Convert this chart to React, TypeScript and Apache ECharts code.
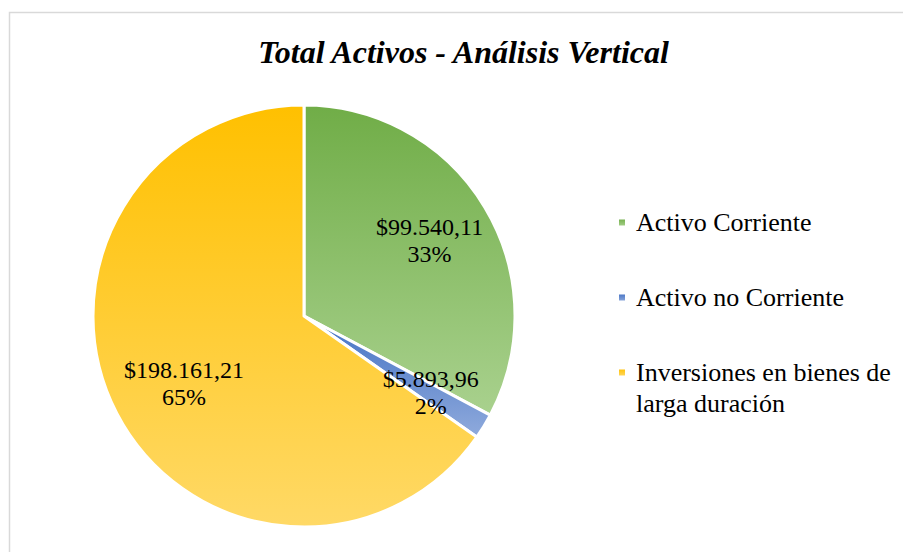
import React, { useEffect, useRef } from "react";
import * as echarts from "echarts";

const categories = [
  "Activo Corriente",
  "Activo no Corriente",
  "Inversiones en bienes de\nlarga duración",
];
const values = [99540.11, 5893.96, 198161.21];
const topColors = ["#70ad47", "#4472c4", "#ffc000"];
const bottomColors = ["#a9d18e", "#8faadc", "#ffd966"];
const titleText = "Total Activos - Análisis Vertical";

const FONT = "Liberation Serif";

function formatMoney(v: number): string {
  const [intPart, dec] = v.toFixed(2).split(".");
  const withDots = intPart.replace(/\B(?=(\d{3})+(?!\d))/g, ".");
  return "$" + withDots + "," + dec;
}

export default function App() {
  const ref = useRef<HTMLDivElement>(null);
  useEffect(() => {
    if (!ref.current) return;
    const chart = echarts.init(ref.current, null, { renderer: "svg" });
    const total = values.reduce((a, b) => a + b, 0);
    const R = 211;
    const center = [304, 316];
    const data = categories.map((name, i) => ({
      name,
      value: values[i],
      itemStyle: {
        color: new echarts.graphic.LinearGradient(0, 0, 0, 1, [
          { offset: 0, color: topColors[i] },
          { offset: 1, color: bottomColors[i] },
        ]),
      },
    }));
    // label nudges (Excel "best fit" placement)
    const labelPads = [
      [5, 0, 0, 0],
      [4, 0, 0, 4],
      [0, 0, 2, 20],
    ];
    const legendTops = [207, 282, 326];
    const legends = categories.map((name, i) => ({
      data: [{ name }],
      orient: "vertical",
      left: 617,
      top: legendTops[i],
      padding: 0,
      itemWidth: 8,
      itemHeight: 8,
      icon: "rect",
      selectedMode: false,
      formatter: (n: string) => (n.indexOf("\n") >= 0 ? "\n" + n : n),
      textStyle: {
        fontFamily: FONT,
        fontSize: 26,
        lineHeight: 31,
        color: "#000",
        padding: [0, 0, 0, 5],
      },
    }));
    chart.setOption({
      animation: false,
      title: {
        text: titleText,
        left: 463.5,
        top: 36,
        textAlign: "center",
        padding: 0,
        textStyle: {
          fontFamily: FONT,
          fontStyle: "italic",
          fontWeight: "bold",
          fontSize: 32,
          color: "#000",
        },
      },
      legend: legends,
      graphic: [
        {
          type: "rect",
          shape: { x: 9.5, y: 12.5, width: 1000, height: 1000 },
          style: { fill: "none", stroke: "#d9d9d9", lineWidth: 1.5 },
          silent: true,
        },
      ],
      series: [
        {
          type: "pie",
          center,
          radius: [0, R],
          startAngle: 90,
          clockwise: true,
          label: { show: false },
          labelLine: { show: false },
          emphasis: { disabled: true },
          itemStyle: { borderColor: "#fff", borderWidth: 3 },
          data,
        },
        {
          type: "pie",
          center,
          radius: [R * 0.36, R],
          startAngle: 90,
          clockwise: true,
          silent: true,
          emphasis: { disabled: true },
          itemStyle: { color: "rgba(0,0,0,0)", borderWidth: 0 },
          labelLine: { show: false },
          label: {
            show: true,
            position: "inside",
            fontFamily: FONT,
            fontSize: 24,
            lineHeight: 27,
            color: "#000",
            formatter: (p: any) =>
              formatMoney(p.value) + "\n" + Math.round((p.value / total) * 100) + "%",
          },
          data: categories.map((name, i) => ({
            name,
            value: values[i],
            label: { padding: labelPads[i] },
          })),
        },
      ],
    });
    return () => chart.dispose();
  }, []);
  return (
    <div
      ref={ref}
      style={{ position: "fixed", left: 0, top: 0, width: 903, height: 552, background: "#fff" }}
    />
  );
}
